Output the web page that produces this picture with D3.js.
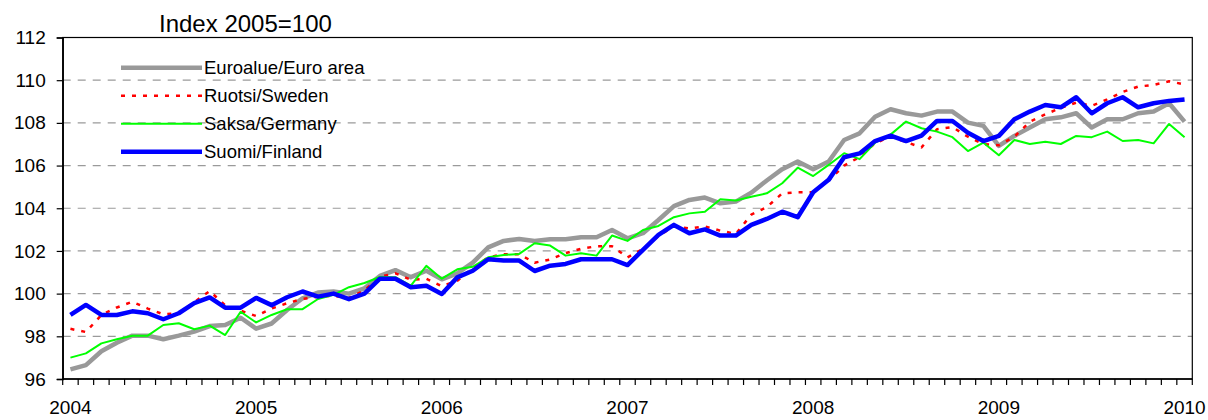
<!DOCTYPE html>
<html>
<head>
<meta charset="utf-8">
<script src="https://cdn.jsdelivr.net/npm/d3@7"></script>
<style>
  body { margin: 0; background: #fff; }
  svg { font-family: "Liberation Sans", Arial, sans-serif; }
</style>
</head>
<body>
<div class="price-index-wrapper"></div>
<script>
// monthly, Jan 2004 .. Jan 2010
const years = [2004, 2005, 2006, 2007, 2008, 2009, 2010];
const yTicks = [96, 98, 100, 102, 104, 106, 108, 110, 112];

const euroArea = [
  96.45, 96.65, 97.3, 97.7, 98.03, 98.03, 97.86, 98.03, 98.22, 98.48, 98.53, 98.87,
  98.36, 98.6, 99.23, 99.78, 100.05, 100.1, 100.0, 100.25, 100.83, 101.1, 100.77, 101.07,
  100.67, 100.95, 101.45, 102.17, 102.47, 102.56, 102.47, 102.55, 102.55, 102.64, 102.64, 102.98,
  102.59, 102.83, 103.45, 104.1, 104.39, 104.5, 104.23, 104.31, 104.73, 105.3, 105.83, 106.19,
  105.83, 106.19, 107.2, 107.51, 108.29, 108.64, 108.45, 108.34, 108.53, 108.53, 108.01, 107.86,
  106.92, 107.39, 107.78, 108.17, 108.26, 108.45, 107.78, 108.17, 108.17, 108.45, 108.53, 108.92,
  108.06
];
const sweden = [
  98.35, 98.2, 99.0, 99.35, 99.62, 99.3, 99.03, 99.08, 99.6, 100.12, 99.45, 99.2,
  98.95, 99.3, 99.55, 99.75, 99.85, 99.9, 99.8, 100.15, 100.8, 100.95, 100.65, 100.7,
  100.35, 100.6, 101.2, 101.7, 101.85, 101.85, 101.45, 101.6, 101.9, 102.1, 102.22, 102.22,
  101.7, 102.1, 102.7, 103.15, 103.05, 103.15, 102.95, 102.8, 103.7, 104.05, 104.7, 104.75,
  104.75, 105.3, 106.0, 106.4, 107.05, 107.35, 107.1, 106.85, 107.7, 107.8, 107.35, 107.0,
  106.95, 107.35, 108.05, 108.4, 108.7, 108.95, 108.8, 109.1, 109.45, 109.7, 109.78, 109.95,
  109.8
];
const germany = [
  97.0, 97.2, 97.67, 97.86, 98.03, 98.03, 98.53, 98.61, 98.33, 98.5, 98.06, 99.15,
  98.65, 99.0, 99.27, 99.27, 99.75, 99.94, 100.3, 100.5, 100.78, 100.77, 100.38, 101.3,
  100.7, 101.14, 101.26, 101.7, 101.81, 101.86, 102.36, 102.25, 101.78, 101.89, 101.78, 102.72,
  102.47, 102.98, 103.17, 103.58, 103.76, 103.84, 104.42, 104.36, 104.54, 104.7, 105.17, 105.9,
  105.51, 106.03, 106.58, 106.3, 107.07, 107.45, 108.06, 107.75, 107.59, 107.33, 106.68, 107.07,
  106.48, 107.2, 107.01, 107.12, 107.01, 107.39, 107.33, 107.59, 107.15, 107.2, 107.04, 107.95,
  107.33
];
const finland = [
  99.0, 99.47, 99.0, 99.0, 99.17, 99.08, 98.8, 99.08, 99.55, 99.82, 99.34, 99.34,
  99.8, 99.46, 99.83, 100.1, 99.86, 100.0, 99.74, 100.0, 100.7, 100.7, 100.3, 100.37,
  99.98, 100.76, 101.07, 101.61, 101.55, 101.55, 101.06, 101.31, 101.39, 101.61, 101.61, 101.61,
  101.34, 102.05, 102.75, 103.22, 102.83, 103.01, 102.72, 102.72, 103.22, 103.5, 103.84, 103.58,
  104.75, 105.33, 106.39, 106.57, 107.15, 107.4, 107.15, 107.4, 108.09, 108.09, 107.54, 107.15,
  107.39, 108.17, 108.53, 108.84, 108.73, 109.2, 108.45, 108.92, 109.2, 108.73, 108.92, 109.03,
  109.1
];

const seriesNames = ["Euroalue/Euro area", "Ruotsi/Sweden", "Saksa/Germany", "Suomi/Finland"];

// category labels "2004-01" ... "2010-01"
let months = [];
years.forEach(yr => {
  for (let m = 1; m <= 12; ++m) {
    if (yr === 2010 && m > 1) break;
    months.push(`${yr}-${String(m).padStart(2, "0")}`);
  }
});

const styles = [
  { color: "#999999", width: 4.5, dash: null },
  { color: "#ff0000", width: 2.5, dash: "4,7" },
  { color: "#00ff00", width: 2, dash: null },
  { color: "#0000ff", width: 4.5, dash: null }
];
const allSeries = [euroArea, sweden, germany, finland];

const chartW = 1208, chartH = 420;
const plotL = 62.7, plotR = 1192.3, plotT = 37.5, plotB = 379;

let svg = d3
  .select(".price-index-wrapper")
  .append("svg")
  .attr("width", chartW)
  .attr("height", chartH);

let x = d3.scaleBand()
  .domain(months)
  .range([plotL, plotR])
  .padding(0);

let y = d3.scaleLinear()
  .domain([96, 112])
  .range([plotB, plotT]);

let cx = m => x(m) + x.bandwidth() / 2;

// gridlines
svg.selectAll(".grid")
  .data(yTicks.filter(d => d > 96 && d < 112))
  .enter()
  .append("line")
  .attr("x1", plotL)
  .attr("x2", plotR)
  .attr("y1", d => y(d))
  .attr("y2", d => y(d))
  .attr("stroke", "#9a9a9a")
  .attr("stroke-width", 1.2)
  .attr("stroke-dasharray", "8,7");

// plot border
svg.append("rect")
  .attr("x", plotL)
  .attr("y", plotT)
  .attr("width", plotR - plotL)
  .attr("height", plotB - plotT)
  .attr("fill", "none")
  .attr("stroke", "#000")
  .attr("stroke-width", 1.2);

// y axis
let yAxis = d3.axisLeft(y)
  .tickValues(yTicks)
  .tickSize(6)
  .tickPadding(11);
let gy = svg.append("g")
  .attr("transform", `translate(${plotL},0)`)
  .call(yAxis);
gy.select(".domain").attr("stroke", "#000").attr("stroke-width", 1.5);
gy.selectAll(".tick line").attr("stroke", "#000").attr("stroke-width", 1.2);
gy.selectAll(".tick text")
  .attr("fill", "#000")
  .style("font-size", "19px")
  .style("font-family", "'Liberation Sans', Arial, sans-serif");

// x axis: ticks on month boundaries, year labels under January
let gx = svg.append("g").attr("transform", `translate(0,${plotB})`);
gx.append("line")
  .attr("x1", plotL).attr("x2", plotR)
  .attr("stroke", "#000").attr("stroke-width", 1.5);
gx.selectAll(".xtick")
  .data(months.concat(["end"]))
  .enter()
  .append("line")
  .attr("x1", (d, i) => i < months.length ? x(d) : plotR)
  .attr("x2", (d, i) => i < months.length ? x(d) : plotR)
  .attr("y1", 0)
  .attr("y2", 6)
  .attr("stroke", "#000")
  .attr("stroke-width", 1.2);
gx.selectAll(".xlabel")
  .data(years)
  .enter()
  .append("text")
  .attr("x", d => cx(`${d}-01`))
  .attr("y", 35)
  .attr("text-anchor", "middle")
  .style("font-size", "19px")
  .text(d => d);

// series lines
let line = d3.line()
  .x((d, i) => cx(months[i]))
  .y(d => y(d));

svg.selectAll(".series")
  .data(allSeries)
  .enter()
  .append("path")
  .attr("d", line)
  .attr("fill", "none")
  .attr("stroke", (d, i) => styles[i].color)
  .attr("stroke-width", (d, i) => styles[i].width)
  .attr("stroke-dasharray", (d, i) => styles[i].dash)
  .attr("stroke-linejoin", "round");

// title
svg.append("text")
  .attr("x", 159)
  .attr("y", 32)
  .style("font-size", "24px")
  .text("Index 2005=100");

// legend
let legend = svg.selectAll(".legend")
  .data(seriesNames)
  .enter()
  .append("g")
  .attr("transform", (d, i) => `translate(121,${67.7 + i * 28})`);
legend.append("line")
  .attr("x1", 0).attr("x2", 81)
  .attr("stroke", (d, i) => styles[i].color)
  .attr("stroke-width", (d, i) => styles[i].width)
  .attr("stroke-dasharray", (d, i) => styles[i].dash);
legend.append("text")
  .attr("x", 83)
  .attr("y", 6.5)
  .style("font-size", "18.5px")
  .text(d => d);
</script>
</body>
</html>
